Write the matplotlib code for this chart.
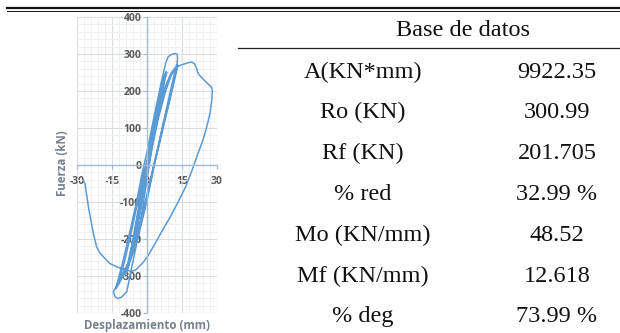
import matplotlib.pyplot as plt
from matplotlib.lines import Line2D
from matplotlib.ticker import MultipleLocator

plt.rcParams["axes.unicode_minus"] = False

# Ciclos histeréticos: desplazamiento (mm) y fuerza (kN)
desplazamiento = [
    0, 1.5, 3, 2.6, 1, 0, -1.5, -3, -2.6, -1, 0,
    2, 4, 5, 4.5, 2.5, 0.5, -1.5, -3.5, -5, -4.5, -2.5, -0.5,
    1.5, 4, 6.5, 7.5, 7.2, 5, 2, 0, -2, -4.5, -6.5, -7.5, -7, -4, -1,
    1, 4, 6.5, 8.2, 7.8, 5, 2.5, 0.5, -2, -5, -8, -9, -8.5, -5.5, -2,
    0.5, 3, 6, 8.5, 8.1, 5.5, 3, 1, -2, -5.5, -8.5, -9.5, -9, -6, -3, -0.5,
    2, 5, 8, 10.5, 12, 13, 12.5, 10, 7, 4, 2.5, 0, -3.5, -7, -10.5, -13,
    -12.5, -10, -7, -4, -1.5,
    1, 4, 7, 10, 12.5, 13.2, 12.8, 10.5, 7.5, 4.5, 3, 0, -4, -8, -11.5,
    -13.5, -13, -10.5, -7.5, -4.5, -2,
    0, 3, 6, 8, 9, 10.5, 12, 12.8, 13.1, 12.9, 12, 9.5, 6.5, 4, 2.5, -0.5,
    -4, -8, -12, -14.4, -13.7, -12.5, -10.9, -8.7, -8, -6.5, -4, -1.5, 0.5,
    2, 5, 8, 10.5, 12.5, 14.5, 16.5, 18, 19.1, 20.3, 21.2, 22, 23.5, 25,
    26.5, 27.7, 28, 27.8, 27, 25.5, 24, 21.5, 19.1, 16.5, 13.4, 10, 6.3,
    3.5, 0.6, -1, -2.3, -3.5, -4.5, -6.6, -8.7, -11, -13, -16, -18.7,
    -20.5, -21.6, -23, -24, -25.1, -26, -26.6, -27.3,
]
fuerza = [
    0, 60, 110, 100, 40, 0, -55, -110, -100, -40, 0,
    80, 140, 170, 160, 90, 10, -60, -130, -190, -180, -110, -20,
    60, 150, 220, 240, 232, 170, 70, 0, -70, -170, -235, -260, -250, -150, -40,
    35, 145, 225, 252, 245, 160, 70, 5, -80, -190, -270, -290, -283, -190, -70,
    15, 110, 210, 250, 243, 165, 80, 10, -90, -210, -285, -295, -290, -200, -90, 0,
    60, 150, 215, 250, 262, 268, 255, 185, 110, 30, -10, -80, -170, -250, -300, -330,
    -322, -270, -190, -100, -20,
    20, 110, 190, 240, 264, 270, 258, 195, 115, 35, 0, -90, -190, -265, -305,
    -335, -325, -265, -185, -100, -20,
    35, 130, 220, 275, 292, 299, 301, 300, 290, 275, 255, 185, 100, 25, -20, -110,
    -200, -275, -320, -342, -356, -361, -357, -343, -322, -275, -200, -100, -20,
    40, 130, 200, 245, 264, 270, 274, 277, 278, 274, 262, 246, 236, 226,
    217, 210, 200, 175, 140, 100, 68, 25, -18, -60, -99, -140, -180,
    -212, -243, -258, -268, -275, -282, -288, -284, -280, -275, -266, -248,
    -235, -221, -185, -150, -113, -75, -50, -42,
]

x_ticks = [-30, -15, 0, 15, 30]
y_ticks = [-400, -300, -200, -100, 0, 100, 200, 300, 400]

# Resultados de la base de datos
parametros = ["A(KN*mm)", "Ro (KN)", "Rf (KN)", "% red", "Mo (KN/mm)", "Mf (KN/mm)", "% deg"]
valores = ["9922.35", "300.99", "201.705", "32.99 %", "48.52", "12.618", "73.99 %"]

W, H = 620, 333
fig = plt.figure(figsize=(W / 100, H / 100), dpi=100)

axis_col = "#a9bbd3"
tick_col = "#595959"
label_col = "#76808f"
sans = "Open Sans"

ax = fig.add_axes([77 / W, 20 / H, 140 / W, 296 / H])
ax.plot(desplazamiento, fuerza, color="#5b9bd5", lw=1.1, solid_joinstyle="round")
ax.set_xlim(-30, 30)
ax.set_ylim(-400, 400)
ax.set_xticks(x_ticks)
ax.set_yticks(y_ticks)
ax.xaxis.set_minor_locator(MultipleLocator(3))
ax.yaxis.set_minor_locator(MultipleLocator(20))
ax.set_axisbelow(True)
ax.grid(which="major", color="#d9dde3", lw=0.8)
ax.grid(which="minor", color="#eceef1", lw=0.6)

for side in ("top", "right"):
    ax.spines[side].set_visible(False)
for side in ("left", "bottom"):
    ax.spines[side].set_position(("data", 0))
    ax.spines[side].set_color(axis_col)
    ax.spines[side].set_linewidth(1.0)

ax.tick_params(which="minor", length=0)
ax.tick_params(which="major", length=3, color=axis_col, direction="out",
               labelsize=7.5, labelcolor=tick_col)
ax.tick_params(axis="x", pad=5)
ax.tick_params(axis="y", pad=1)
for lbl in ax.get_xticklabels() + ax.get_yticklabels():
    lbl.set_fontweight("bold")
    lbl.set_family(sans)

fig.text(62 / W, 1 - 163 / H, "Fuerza (kN)", rotation=90, ha="center", va="center",
         fontsize=8.3, weight="bold", color=label_col, family=sans)
fig.text(147 / W, 1 - 325 / H, "Desplazamiento (mm)", ha="center", va="center",
         fontsize=8.3, weight="bold", color=label_col, family=sans)

# Reglas superiores y tabla
fig.add_artist(Line2D([7 / W, 1], [1 - 7.5 / H] * 2, lw=1.6, color="#111111"))
fig.add_artist(Line2D([7 / W, 1], [1 - 10.5 / H] * 2, lw=0.7, color="#111111"))
fig.add_artist(Line2D([238 / W, 1], [1 - 48 / H] * 2, lw=0.9, color="#222222"))

serif = "Liberation Serif"
fs = 17.5
fig.text(463 / W, 1 - 31 / H, "Base de datos", ha="center", va="center",
         fontsize=fs, family=serif, color="#111111")
for i, (p, v) in enumerate(zip(parametros, valores)):
    y = 1 - (72 + i * 40.8) / H
    fig.text(363 / W, y, p, ha="center", va="center", fontsize=fs, family=serif, color="#111111")
    fig.text(557 / W, y, v, ha="center", va="center", fontsize=fs, family=serif, color="#111111")

fig.savefig("out.png", dpi=100)
